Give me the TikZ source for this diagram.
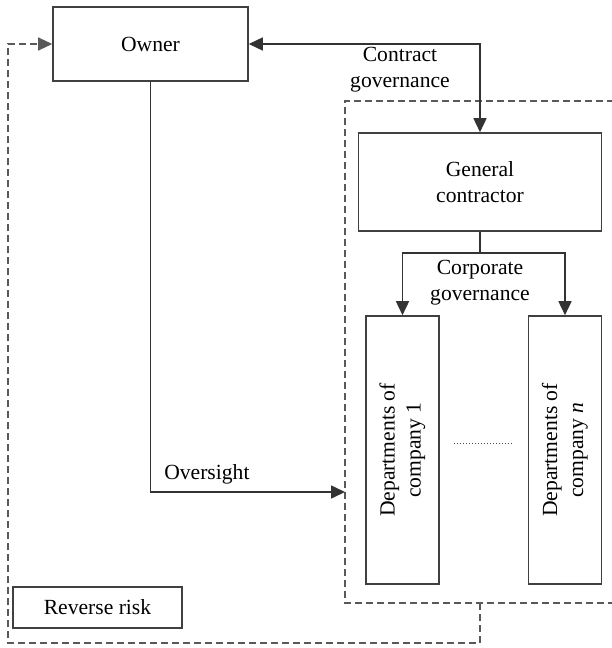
\documentclass[tikz,border=0pt]{standalone}
\usepackage{fontspec}
\setmainfont{Liberation Serif}
\usetikzlibrary{arrows.meta,positioning}

\begin{document}
\begin{tikzpicture}[x=0.5pt,y=-0.5pt,>={Triangle[length=7pt,width=6.5pt]},
                    box/.style={rectangle,draw=black!75,line width=0.8pt,inner sep=0pt,
                                font=\fontsize{10.8}{13}\selectfont,align=center},
                    lbl/.style={font=\fontsize{10.8}{13}\selectfont,align=center},
                    link/.style={draw=black!80,line width=0.8pt},
                    risk line/.style={draw=black!65,line width=0.65pt,dash pattern=on 3.5pt off 2pt}]

  \useasboundingbox (0,0) rectangle (611,648);

  \node[box,minimum width=97.5pt,minimum height=37pt] (owner) at (150.5,44) {Owner};
  \node[box,minimum width=121.5pt,minimum height=49pt] (gc) at (480,182) {General\\contractor};
  \node[box,minimum width=36.5pt,minimum height=134pt] (dep1) at (402.5,450)
    {\rotatebox{90}{\begin{tabular}{@{}c@{}}Departments of\\company 1\end{tabular}}};
  \node[box,minimum width=36.5pt,minimum height=134pt] (depn) at (565,450)
    {\rotatebox{90}{\begin{tabular}{@{}c@{}}Departments of\\company \textit{n}\end{tabular}}};
  \node[box,minimum width=84.5pt,minimum height=20.5pt] (risk) at (97.5,607.5) {Reverse risk};

  % dashed group round the contractor side
  \coordinate (grp nw) at (345,101);
  \coordinate (grp sw) at (345,603);
  \draw[risk line] (625,101) -- (grp nw) -- (grp sw) -- (625,603);

  % contract governance
  \draw[link,<->] (owner.east) -- (gc.north |- owner.east) -- (gc.north);
  \node[lbl] (contract) at (400,70) {Contract\\governance};

  % corporate governance
  \coordinate (split) at (480,253);
  \draw[link] (gc.south) -- (split);
  \draw[link,->] (split) -- (dep1.north |- split) -- (dep1.north);
  \draw[link,->] (split) -- (depn.north |- split) -- (depn.north);
  \node[lbl] (corporate) at (480,283) {Corporate\\governance};
  \draw[black!70,densely dotted,line width=0.5pt,shorten <=7pt,shorten >=7.5pt]
    ([yshift=3.5pt]dep1.east) -- ([yshift=3.5pt]depn.west);

  % oversight
  \coordinate (watch) at (345,492);
  \draw[link,->] (owner.south) |- (watch) node[lbl,above,pos=0.645] (oversight) {Oversight};

  % reverse risk loop
  \coordinate (tap) at (480,603);
  \coordinate (loop se) at (480,643);
  \coordinate (loop sw) at (8,643);
  \draw[risk line,->] (tap) -- (loop se) -- (loop sw) |- (owner.west);
\end{tikzpicture}
\end{document}
